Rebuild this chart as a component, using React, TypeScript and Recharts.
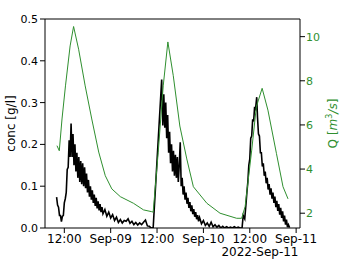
import React from 'react';
import { LineChart, Line, XAxis, YAxis, ReferenceLine } from 'recharts';

// hours since 2022-Sep-08 00:00
const concTimes = [
  10.0, 10.25, 10.5, 10.75, 11.0, 11.25, 11.5, 11.75, 12.0, 12.25,
  12.5, 12.75, 13.0, 13.25, 13.5, 13.75, 14.0, 14.25, 14.5, 14.75, 15.0, 15.25, 15.5, 15.75,
  16.0, 16.25, 16.5, 16.75, 17.0, 17.25, 17.5, 17.75, 18.0, 18.25, 18.5, 18.75, 19.0, 19.25,
  19.5, 19.75, 20.0, 20.25, 20.5, 20.75, 21.0, 21.25, 21.5, 21.75, 22.0,
  22.5, 23.0, 23.5, 24.0, 24.5, 25.0, 25.5, 26.0, 26.5, 27.0, 27.5, 28.0, 28.5, 29.0, 29.5,
  30.0, 30.5, 31.0, 31.5, 32.0, 32.5, 33.0, 33.5, 34.0, 34.5, 35.0,
  37.2, 37.5, 37.75, 38.0, 38.25, 38.5, 38.75, 39.0, 39.25, 39.5, 39.75, 40.0, 40.25, 40.5,
  40.75, 41.0, 41.25, 41.5, 41.75, 42.0, 42.25, 42.5, 42.75, 43.0, 43.25, 43.5, 43.75, 44.0,
  44.25, 44.5, 44.75, 45.0, 45.25, 45.5, 45.75, 46.0, 46.25, 46.5, 46.75, 47.0,
  47.5, 48.0, 48.5, 49.0, 49.5, 50.0, 50.5, 51.0, 51.5, 52.0, 52.5, 53.0, 53.5, 54.0, 54.5,
  55.0, 55.5, 56.0, 56.5, 57.0, 57.5, 58.0,
  58.3, 58.7, 59.0, 59.25, 59.5, 59.75, 60.0, 60.25, 60.5, 60.75, 61.0, 61.25, 61.5, 61.8,
  62.0, 62.25, 62.5, 62.75, 63.0, 63.25, 63.5, 63.75, 64.0, 64.25, 64.5, 64.75, 65.0, 65.25,
  65.5, 65.75, 66.0, 66.25, 66.5, 66.75, 67.0, 67.25, 67.5, 67.75, 68.0, 68.25, 68.5, 68.75,
  69.0, 69.25, 69.5, 69.75, 70.0, 70.3,
];
const concValues = [
  0.074, 0.055, 0.050, 0.030, 0.030, 0.015, 0.028, 0.030, 0.060, 0.070,
  0.085, 0.140, 0.145, 0.210, 0.170, 0.250, 0.170, 0.225, 0.150, 0.200, 0.135, 0.180, 0.120, 0.170,
  0.110, 0.160, 0.105, 0.155, 0.100, 0.145, 0.095, 0.130, 0.085, 0.115, 0.075, 0.100, 0.068, 0.090,
  0.060, 0.080, 0.053, 0.072, 0.047, 0.064, 0.042, 0.057, 0.038, 0.050, 0.034,
  0.044, 0.028, 0.038, 0.024, 0.032, 0.018, 0.026, 0.013, 0.020, 0.012, 0.018, 0.016, 0.022, 0.011, 0.016,
  0.008, 0.013, 0.007, 0.012, 0.008, 0.014, 0.019, 0.005, 0.004, 0.000, 0.001,
  0.355, 0.245, 0.320, 0.240, 0.300, 0.215, 0.270, 0.180, 0.230, 0.155, 0.200, 0.135, 0.185, 0.125,
  0.175, 0.120, 0.170, 0.110, 0.150, 0.205, 0.100, 0.120, 0.080, 0.100, 0.068, 0.085, 0.058, 0.072,
  0.048, 0.062, 0.040, 0.054, 0.033, 0.045, 0.027, 0.038, 0.021, 0.031, 0.016, 0.025,
  0.010, 0.018, 0.006, 0.012, 0.004, 0.014, 0.003, 0.008, 0.002, 0.006, 0.000, 0.004, 0.000, 0.003, 0.000,
  0.002, 0.000, 0.003, 0.000, 0.002, 0.000, 0.000,
  0.030, 0.022, 0.055, 0.085, 0.110, 0.150, 0.165, 0.215, 0.220, 0.260, 0.255, 0.290, 0.285, 0.313,
  0.265, 0.225, 0.220, 0.180, 0.180, 0.147, 0.155, 0.125, 0.135, 0.107, 0.120, 0.092, 0.105, 0.080,
  0.095, 0.070, 0.085, 0.060, 0.075, 0.050, 0.065, 0.041, 0.057, 0.032, 0.048, 0.024, 0.040, 0.016,
  0.030, 0.008, 0.020, 0.002, 0.008, 0.001,
];

const qTimes = [
  10.1, 10.7, 11.4, 12.3, 13.5, 14.4, 15.7, 17.4, 19.1, 20.9, 22.6, 24.3, 26.5, 29.9, 32.5, 34.6,
  35.0, 36.3, 37.6, 38.8, 40.2, 41.9, 43.7, 45.4, 48.9, 52.3, 56.6, 57.9, 58.8, 60.5, 61.7, 63.2,
  64.7, 66.9, 68.6, 69.9,
];
const qValues = [
  5.06, 4.83, 6.27, 7.77, 9.58, 10.46, 9.43, 7.77, 6.27, 4.77, 3.70, 3.10, 2.75, 2.45, 2.15, 2.07,
  2.05, 4.76, 7.77, 9.76, 8.23, 5.95, 4.46, 3.20, 2.45, 2.00, 1.77, 1.77, 2.30, 4.86, 6.82, 7.66,
  6.67, 4.71, 3.20, 2.65,
];

const xTicks = [12, 24, 36, 48, 60, 72];
const xTickLabels = ['12:00', 'Sep-09', '12:00', 'Sep-10', '12:00', 'Sep-11'];
const concTicks = [0, 0.1, 0.2, 0.3, 0.4, 0.5];
const qTicks = [2, 4, 6, 8, 10];
const offsetText = '2022-Sep-11';

const concData = concTimes.map((t, i) => ({ t, conc: concValues[i] }));
const qData = qTimes.map((t, i) => ({ t, q: qValues[i] }));

const FONT = '"DejaVu Sans", sans-serif';
const GREEN = '#2f8f2f';

const OffsetLabel = (props: any) => {
  const vb = props.viewBox || { x: 45, y: 228, width: 255, height: 44 };
  return (
    <text x={vb.x + vb.width - 1.5} y={vb.y + 27.5} textAnchor="end" fontFamily={FONT} fontSize={12} fill="#000">
      {offsetText}
    </text>
  );
};

const LeftLabel = (props: any) => {
  const vb = props.viewBox || { x: 0, y: 19, width: 45, height: 209 };
  const cx = vb.x + 11;
  const cy = vb.y + vb.height / 2;
  return (
    <text x={cx} y={cy} transform={`rotate(-90 ${cx} ${cy})`} textAnchor="middle" dominantBaseline="central"
      fontFamily={FONT} fontSize={12} fill="#000">
      conc [g/l]
    </text>
  );
};

const RightLabel = (props: any) => {
  const vb = props.viewBox || { x: 300, y: 19, width: 41, height: 209 };
  const cx = vb.x + 33;
  const cy = vb.y + vb.height / 2;
  return (
    <text x={cx} y={cy} transform={`rotate(-90 ${cx} ${cy})`} textAnchor="middle" dominantBaseline="central"
      fontFamily={FONT} fontSize={12} fill={GREEN}>
      Q [<tspan fontStyle="italic">m</tspan>
      <tspan fontSize={8} dy={-4}>3</tspan>
      <tspan fontStyle="italic" dy={4}>/s</tspan>]
    </text>
  );
};

export default function App() {
  return (
    <div style={{ position: 'absolute', left: 0, top: 0, background: '#fff' }}>
      <LineChart width={341} height={272} margin={{ top: 19, right: 0, bottom: 0, left: 0 }}>
        <XAxis
          dataKey="t"
          type="number"
          domain={[7, 73]}
          ticks={xTicks}
          tickFormatter={(v: number) => xTickLabels[xTicks.indexOf(v)] ?? ''}
          height={44}
          allowDataOverflow
          stroke="#000"
          tickSize={5}
          tickMargin={1}
          tick={{ fill: '#000', fontSize: 12, fontFamily: FONT }}
          interval={0}
          label={OffsetLabel}
        />
        <YAxis
          yAxisId="left"
          domain={[0, 0.5]}
          ticks={concTicks}
          tickFormatter={(v: number) => v.toFixed(1)}
          width={45}
          allowDataOverflow
          stroke="#000"
          tickSize={5}
          tickMargin={2}
          tick={{ fill: '#000', fontSize: 11, fontFamily: FONT }}
          interval={0}
          label={LeftLabel}
        />
        <YAxis
          yAxisId="right"
          orientation="right"
          domain={[1.33, 10.8]}
          ticks={qTicks}
          width={41}
          allowDataOverflow
          stroke="#000"
          tickSize={5}
          tickMargin={1}
          tick={{ fill: GREEN, fontSize: 11, fontFamily: FONT }}
          interval={0}
          label={RightLabel}
        />
        <ReferenceLine yAxisId="left" y={0.5} stroke="#000" strokeWidth={1} />
        <Line
          data={concData}
          dataKey="conc"
          yAxisId="left"
          type="linear"
          stroke="#000"
          strokeWidth={1.6}
          dot={false}
          isAnimationActive={false}
        />
        <Line
          data={qData}
          dataKey="q"
          yAxisId="right"
          type="linear"
          stroke={GREEN}
          strokeWidth={1}
          dot={false}
          isAnimationActive={false}
        />
      </LineChart>
    </div>
  );
}
